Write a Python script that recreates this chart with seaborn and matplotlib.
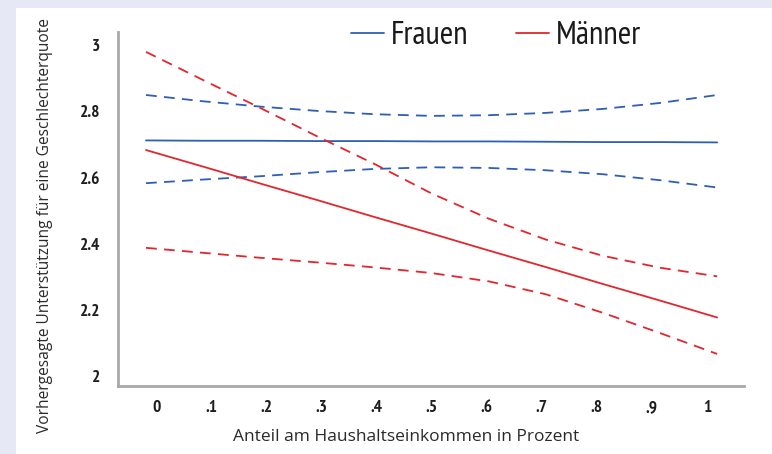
import numpy as np
import pandas as pd
import matplotlib
matplotlib.use('Agg')
import matplotlib.pyplot as plt
from matplotlib.lines import Line2D
from matplotlib.patches import Rectangle
import seaborn as sns

# Anteil am Haushaltseinkommen
anteil = [0, .1, .2, .3, .4, .5, .6, .7, .8, .9, 1]
tick_labels = ['0', '.1', '.2', '.3', '.4', '.5', '.6', '.7', '.8', '.9', '1']

frauen = [2.712, 2.711, 2.711, 2.710, 2.710, 2.709, 2.709, 2.708, 2.707, 2.707, 2.706]
frauen_oben = [2.849, 2.830, 2.814, 2.801, 2.791, 2.786, 2.788, 2.795, 2.807, 2.825, 2.849]
frauen_unten = [2.583, 2.594, 2.604, 2.616, 2.626, 2.631, 2.629, 2.622, 2.610, 2.592, 2.570]

maenner = [2.683, 2.633, 2.582, 2.532, 2.481, 2.431, 2.380, 2.330, 2.279, 2.229, 2.178]
maenner_oben = [2.979, 2.894, 2.810, 2.724, 2.641, 2.552, 2.476, 2.413, 2.364, 2.328, 2.302]
maenner_unten = [2.388, 2.373, 2.358, 2.344, 2.329, 2.312, 2.287, 2.248, 2.192, 2.131, 2.068]

blau = '#2e5fb4'
rot = '#e2262b'

series = [
    ('Frauen', 'est', frauen, blau),
    ('Frauen', 'ci', frauen_oben, blau),
    ('Frauen', 'ci', frauen_unten, blau),
    ('Männer', 'est', maenner, rot),
    ('Männer', 'ci', maenner_oben, rot),
    ('Männer', 'ci', maenner_unten, rot),
]

sns.set_theme(style='white')
plt.rcParams['font.family'] = ['PT Sans Narrow', 'DejaVu Sans']
label_font = ['Open Sans', 'DejaVu Sans']

fig = plt.figure(figsize=(7.72, 4.54), dpi=100)
fig.patch.set_facecolor('#e6e8f5')
fig.patches.append(Rectangle((16 / 772, 0), 1, (454 - 8) / 454, transform=fig.transFigure,
                             facecolor='white', edgecolor='none', zorder=-10))

ax = fig.add_axes([118 / 772, (454 - 386) / 454, (744 - 118) / 772, (386 - 32) / 454])
ax.set_zorder(1)
ax.set_facecolor('white')

for name, kind, vals, col in series:
    df = pd.DataFrame({'x': anteil, 'y': vals})
    ls = '-' if kind == 'est' else (0, (6, 4))
    sns.lineplot(data=df, x='x', y='y', color=col, lw=1.3, linestyle=ls, ax=ax)

ax.set_xlim(-0.049, 1.047)
ax.set_ylim(1.9713, 3.039)
ax.set_xticks(np.linspace(0.019, 0.982, 11))
ax.set_xticklabels(tick_labels)
ax.set_yticks([2, 2.2, 2.4, 2.6, 2.8, 3])
ax.set_yticklabels(['2', '2.2', '2.4', '2.6', '2.8', '3'])
ax.tick_params(axis='both', length=0, labelsize=12.5, colors='#1e1e1e')
ax.tick_params(axis='y', pad=13)
ax.tick_params(axis='x', pad=10)
for lab in ax.get_xticklabels() + ax.get_yticklabels():
    lab.set_fontweight('bold')
ax.set_xlabel('')
ax.set_ylabel('')

for s in ['top', 'right']:
    ax.spines[s].set_visible(False)
for s in ['left', 'bottom']:
    ax.spines[s].set_color('#a8a8a8')
    ax.spines[s].set_linewidth(2)

fig.text(406 / 772, 1 - 437 / 454, 'Anteil am Haushaltseinkommen in Prozent',
         ha='center', va='center', fontsize=12.5, family=label_font, color='#2a2a2a')
fig.text(45 / 772, 1 - 226 / 454, 'Vorhergesagte Unterstützung für eine Geschlechterquote',
         ha='center', va='center', rotation=90, fontsize=11.2, family=label_font, color='#2a2a2a')

handles = [Line2D([], [], color=blau, lw=1.3), Line2D([], [], color=rot, lw=1.3)]
leg = fig.legend(handles, ['Frauen', 'Männer'], loc='center', ncol=2,
                 bbox_to_anchor=(496 / 772, 1 - 36 / 454), frameon=False,
                 fontsize=23.5, handlelength=1.0, handletextpad=0.22, columnspacing=1.45,
                 borderpad=0, borderaxespad=0)
for t in leg.get_texts():
    t.set_color('#1a1a1a')

fig.savefig('out.png', dpi=100)
